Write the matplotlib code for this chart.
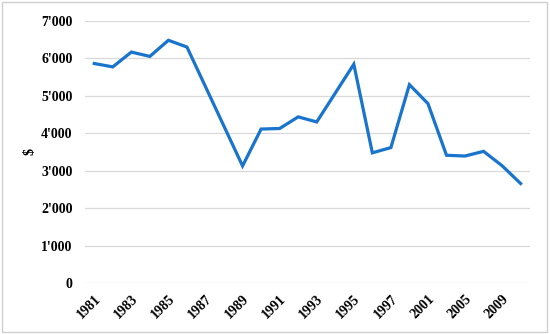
import matplotlib.pyplot as plt
import numpy as np
from matplotlib.patches import Rectangle
from matplotlib.ticker import FuncFormatter

years = ["1981", "1982", "1983", "1984", "1985", "1986", "1987", "1988",
         "1989", "1990", "1991", "1992", "1993", "1994", "1995", "1996",
         "1997", "1999", "2001", "2003", "2005", "2007", "2009", "2011"]
# None = no observation that year (line joins the neighbours)
values = [5860, 5770, 6165, 6050, 6480, 6300, None, None,
          3125, 4110, 4125, 4435, 4300, None, 5840, 3475,
          3615, 5295, 4790, 3410, 3390, 3515, 3130, 2655]

plt.rcParams["font.family"] = ["Liberation Serif", "DejaVu Serif"]

fig = plt.figure(figsize=(5.5, 3.34), dpi=100)
ax = fig.add_axes([0.1545, 0.1527, 0.809, 0.785])

x = np.array([i for i, v in enumerate(values) if v is not None])
y = np.array([v for v in values if v is not None])
ax.plot(x, y, color="#1874CD", lw=2.3, solid_joinstyle="miter", zorder=3)

ax.set_xlim(-0.5, len(years) - 0.5)
ax.set_ylim(0, 7000)
ax.set_yticks(np.arange(0, 7001, 1000))
ax.yaxis.set_major_formatter(FuncFormatter(lambda v, p: f"{int(v):,}".replace(",", "'")))
ax.set_xticks(range(0, len(years), 2))
ax.set_xticklabels(years[::2], rotation=45, ha="right", rotation_mode="anchor")

ax.grid(axis="y", color="#D9D9D9", lw=0.9)
ax.set_axisbelow(True)
for s in ax.spines.values():
    s.set_visible(False)
ax.tick_params(length=0, labelsize=10)
ax.tick_params(axis="y", pad=9)
ax.tick_params(axis="x", pad=7)
for lab in ax.get_xticklabels() + ax.get_yticklabels():
    lab.set_fontweight("bold")

ax.set_ylabel("$", fontsize=10, fontweight="bold", labelpad=3)

fig.patches.append(Rectangle((0.004, 0.007), 0.99, 0.988, transform=fig.transFigure,
                             fill=False, ec="#D0D0D0", lw=1))

fig.savefig("out.png", dpi=100)
